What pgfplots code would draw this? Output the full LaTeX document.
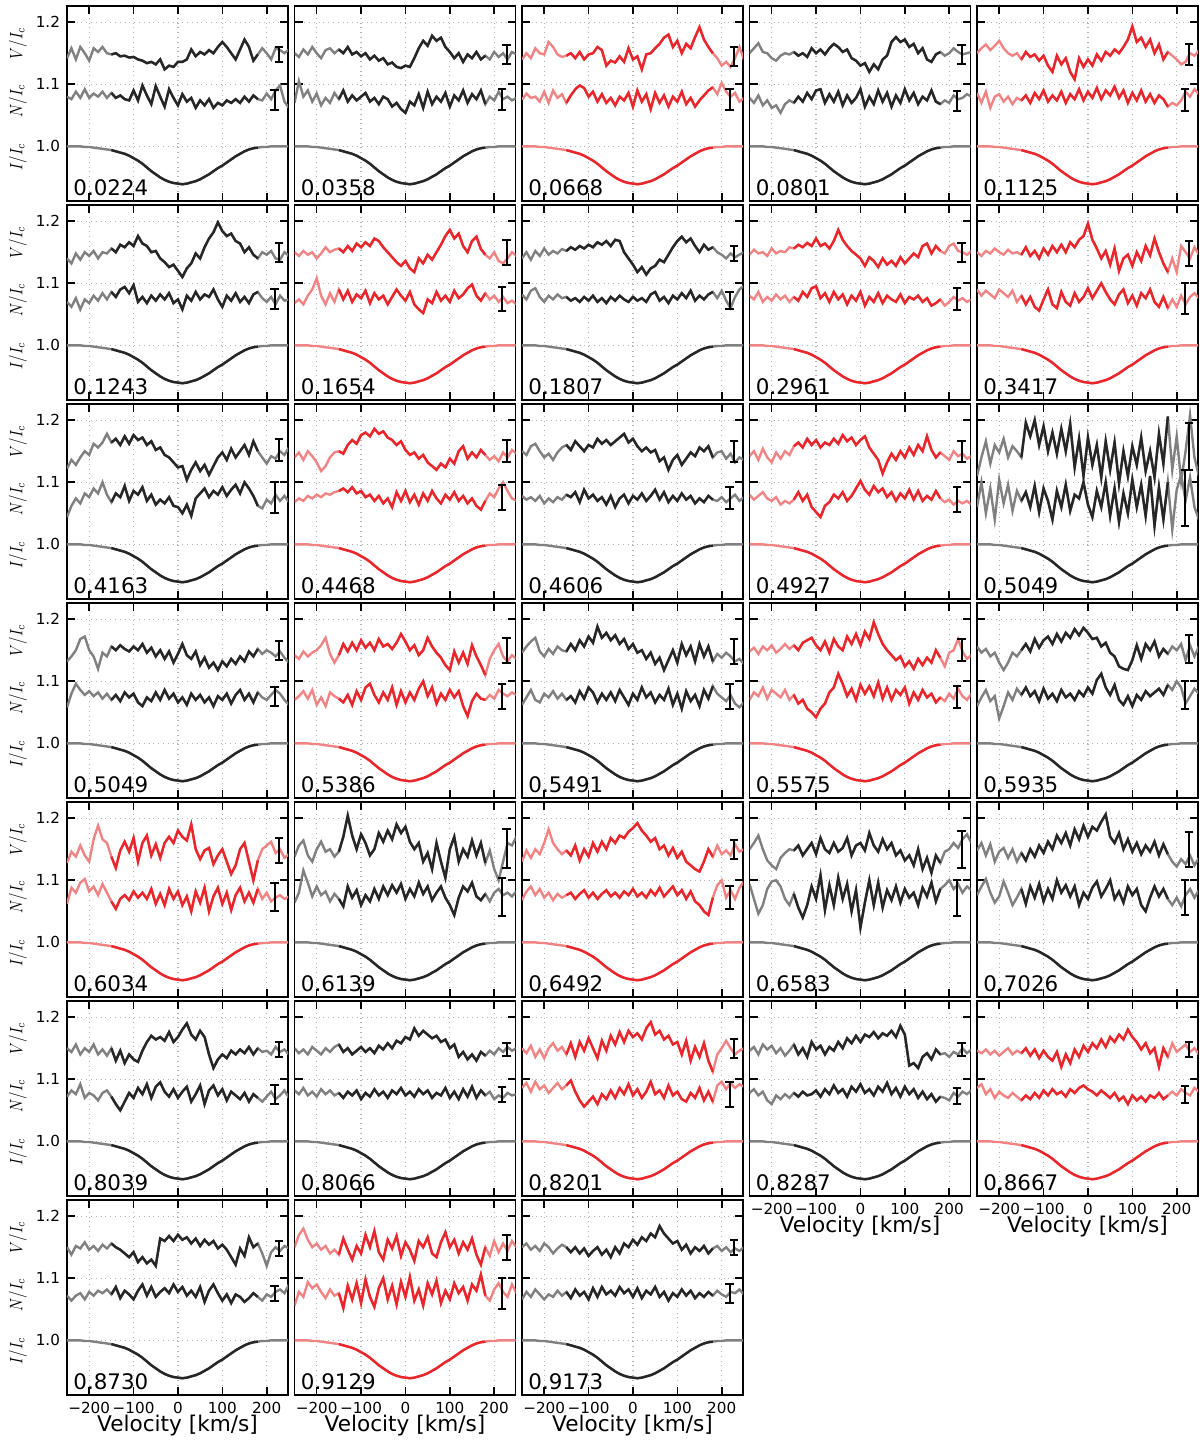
\documentclass[border=0pt]{standalone}
\usepackage{pgfplots}
\pgfplotsset{compat=1.18}
\usepackage{pgfplotstable}
\usepackage{graphicx}
\usepackage{fontspec}
\setmainfont{DejaVu Sans}

\definecolor{kD}{HTML}{262626}
\definecolor{kL}{HTML}{808080}
\definecolor{rD}{HTML}{E8262B}
\definecolor{rL}{HTML}{F08484}

% shared intensity profile
\pgfplotstableread{
v I
-250 1.000
-240 1.000
-230 1.000
-220 1.000
-210 0.999
-200 0.999
-190 0.998
-180 0.997
-170 0.996
-160 0.995
-150 0.994
-140 0.992
-130 0.990
-120 0.988
-110 0.985
-100 0.981
-90 0.977
-80 0.972
-70 0.966
-60 0.960
-50 0.955
-40 0.950
-30 0.946
-20 0.943
-10 0.941
0 0.940
10 0.939
20 0.940
30 0.942
40 0.944
50 0.947
60 0.951
70 0.955
80 0.960
90 0.965
100 0.969
110 0.974
120 0.979
130 0.984
140 0.988
150 0.992
160 0.995
170 0.997
180 0.998
190 0.999
200 0.999
210 1.000
220 1.000
230 1.000
240 1.000
250 1.000
}\Iprof

% 0.0224
\pgfplotstableread{
v V N
-250 1.142 1.080
-240 1.158 1.076
-230 1.140 1.088
-220 1.160 1.078
-210 1.150 1.092
-200 1.138 1.078
-190 1.158 1.085
-180 1.152 1.080
-170 1.160 1.088
-160 1.150 1.078
-150 1.148 1.086
-140 1.150 1.078
-130 1.145 1.082
-120 1.146 1.076
-110 1.143 1.074
-100 1.144 1.090
-90 1.140 1.074
-80 1.138 1.098
-70 1.134 1.082
-60 1.136 1.068
-50 1.132 1.097
-40 1.140 1.080
-30 1.124 1.064
-20 1.130 1.092
-10 1.128 1.078
0 1.136 1.066
10 1.136 1.084
20 1.140 1.072
30 1.156 1.078
40 1.145 1.062
50 1.152 1.074
60 1.148 1.066
70 1.155 1.076
80 1.150 1.062
90 1.160 1.070
100 1.168 1.066
110 1.160 1.074
120 1.150 1.070
130 1.140 1.076
140 1.156 1.070
150 1.172 1.080
160 1.160 1.072
170 1.138 1.082
180 1.148 1.076
190 1.158 1.074
200 1.150 1.085
210 1.140 1.076
220 1.158 1.090
230 1.155 1.098
240 1.150 1.072
250 1.156 1.062
}\tabA

% 0.0358
\pgfplotstableread{
v V N
-250 1.150 1.070
-240 1.144 1.105
-230 1.156 1.080
-220 1.148 1.090
-210 1.160 1.072
-200 1.150 1.085
-190 1.142 1.066
-180 1.155 1.078
-170 1.158 1.070
-160 1.150 1.086
-150 1.156 1.076
-140 1.150 1.090
-130 1.160 1.072
-120 1.148 1.082
-110 1.152 1.074
-100 1.145 1.080
-90 1.150 1.086
-80 1.140 1.072
-70 1.146 1.078
-60 1.138 1.068
-50 1.142 1.080
-40 1.132 1.076
-30 1.135 1.064
-20 1.128 1.070
-10 1.126 1.060
0 1.130 1.054
10 1.128 1.072
20 1.142 1.066
30 1.158 1.084
40 1.170 1.062
50 1.162 1.088
60 1.178 1.068
70 1.170 1.080
80 1.175 1.072
90 1.160 1.086
100 1.152 1.064
110 1.142 1.082
120 1.150 1.074
130 1.136 1.090
140 1.148 1.070
150 1.142 1.084
160 1.152 1.076
170 1.140 1.090
180 1.146 1.068
190 1.140 1.080
200 1.152 1.074
210 1.144 1.088
220 1.150 1.076
230 1.140 1.080
240 1.152 1.074
250 1.148 1.078
}\tabB

% 0.0668
\pgfplotstableread{
v V N
-250 1.140 1.075
-240 1.150 1.085
-230 1.142 1.078
-220 1.158 1.080
-210 1.150 1.072
-200 1.148 1.088
-190 1.168 1.070
-180 1.160 1.090
-170 1.148 1.078
-160 1.144 1.084
-150 1.146 1.070
-140 1.150 1.082
-130 1.142 1.092
-120 1.152 1.098
-110 1.140 1.094
-100 1.148 1.080
-90 1.150 1.088
-80 1.160 1.072
-70 1.155 1.084
-60 1.130 1.070
-50 1.138 1.078
-40 1.135 1.066
-30 1.145 1.080
-20 1.136 1.074
-10 1.158 1.086
0 1.140 1.064
10 1.145 1.090
20 1.124 1.072
30 1.148 1.084
40 1.150 1.060
50 1.158 1.086
60 1.165 1.070
70 1.175 1.082
80 1.180 1.064
90 1.160 1.080
100 1.170 1.072
110 1.150 1.088
120 1.165 1.068
130 1.158 1.078
140 1.176 1.064
150 1.192 1.074
160 1.172 1.082
170 1.160 1.090
180 1.150 1.095
190 1.142 1.084
200 1.130 1.102
210 1.136 1.088
220 1.128 1.080
230 1.142 1.086
240 1.160 1.072
250 1.140 1.078
}\tabC

% 0.0801
\pgfplotstableread{
v V N
-250 1.150 1.078
-240 1.158 1.070
-230 1.166 1.082
-220 1.152 1.066
-210 1.150 1.074
-200 1.142 1.062
-190 1.138 1.066
-180 1.146 1.054
-170 1.150 1.068
-160 1.148 1.074
-150 1.152 1.070
-140 1.146 1.080
-130 1.150 1.072
-120 1.144 1.086
-110 1.158 1.076
-100 1.150 1.090
-90 1.156 1.092
-80 1.148 1.070
-70 1.158 1.084
-60 1.165 1.072
-50 1.160 1.088
-40 1.152 1.066
-30 1.156 1.082
-20 1.142 1.070
-10 1.138 1.078
0 1.130 1.092
10 1.134 1.064
20 1.120 1.080
30 1.132 1.068
40 1.124 1.090
50 1.140 1.072
60 1.146 1.086
70 1.168 1.064
80 1.176 1.082
90 1.168 1.070
100 1.172 1.092
110 1.160 1.074
120 1.165 1.086
130 1.150 1.068
140 1.158 1.080
150 1.140 1.074
160 1.136 1.090
170 1.148 1.072
180 1.152 1.068
190 1.146 1.074
200 1.150 1.070
210 1.158 1.082
220 1.152 1.076
230 1.148 1.078
240 1.150 1.084
250 1.152 1.080
}\tabD

% 0.1125
\pgfplotstableread{
v V N
-250 1.150 1.086
-240 1.158 1.070
-230 1.164 1.088
-220 1.155 1.062
-210 1.162 1.080
-200 1.170 1.084
-190 1.158 1.072
-180 1.150 1.080
-170 1.146 1.068
-160 1.150 1.078
-150 1.140 1.074
-140 1.152 1.082
-130 1.144 1.070
-120 1.148 1.086
-110 1.138 1.076
-100 1.146 1.090
-90 1.130 1.072
-80 1.120 1.082
-70 1.146 1.074
-60 1.132 1.088
-50 1.142 1.070
-40 1.120 1.084
-30 1.108 1.076
-20 1.142 1.092
-10 1.128 1.074
0 1.140 1.088
10 1.130 1.078
20 1.148 1.094
30 1.138 1.076
40 1.152 1.090
50 1.146 1.082
60 1.156 1.096
70 1.150 1.078
80 1.160 1.090
90 1.172 1.070
100 1.193 1.086
110 1.168 1.074
120 1.175 1.090
130 1.160 1.072
140 1.172 1.084
150 1.150 1.070
160 1.164 1.082
170 1.140 1.076
180 1.152 1.064
190 1.146 1.070
200 1.140 1.066
210 1.132 1.074
220 1.136 1.088
230 1.150 1.080
240 1.146 1.092
250 1.154 1.084
}\tabE

% 0.1243
\pgfplotstableread{
v V N
-250 1.140 1.070
-240 1.132 1.062
-230 1.148 1.076
-220 1.138 1.058
-210 1.150 1.074
-200 1.144 1.068
-190 1.152 1.080
-180 1.140 1.072
-170 1.150 1.084
-160 1.148 1.074
-150 1.156 1.086
-140 1.150 1.078
-130 1.162 1.090
-120 1.158 1.094
-110 1.166 1.084
-100 1.160 1.097
-90 1.176 1.070
-80 1.164 1.078
-70 1.160 1.068
-60 1.150 1.080
-50 1.152 1.072
-40 1.140 1.082
-30 1.134 1.074
-20 1.126 1.084
-10 1.130 1.068
0 1.120 1.074
10 1.110 1.058
20 1.124 1.080
30 1.132 1.072
40 1.148 1.086
50 1.140 1.074
60 1.158 1.082
70 1.172 1.078
80 1.182 1.090
90 1.198 1.074
100 1.184 1.062
110 1.176 1.080
120 1.180 1.072
130 1.168 1.084
140 1.164 1.070
150 1.150 1.078
160 1.158 1.068
170 1.146 1.082
180 1.140 1.086
190 1.150 1.076
200 1.146 1.070
210 1.152 1.078
220 1.140 1.066
230 1.138 1.080
240 1.150 1.072
250 1.144 1.074
}\tabF

% 0.1654
\pgfplotstableread{
v V N
-250 1.150 1.068
-240 1.144 1.074
-230 1.152 1.066
-220 1.146 1.080
-210 1.150 1.090
-200 1.140 1.108
-190 1.148 1.080
-180 1.158 1.066
-170 1.150 1.084
-160 1.154 1.070
-150 1.156 1.090
-140 1.150 1.074
-130 1.160 1.088
-120 1.152 1.070
-110 1.164 1.082
-100 1.158 1.076
-90 1.166 1.088
-80 1.160 1.068
-70 1.172 1.084
-60 1.168 1.074
-50 1.158 1.080
-40 1.150 1.066
-30 1.142 1.078
-20 1.134 1.090
-10 1.128 1.080
0 1.136 1.072
10 1.124 1.086
20 1.118 1.066
30 1.140 1.058
40 1.132 1.052
50 1.146 1.074
60 1.138 1.068
70 1.150 1.086
80 1.162 1.072
90 1.176 1.080
100 1.186 1.070
110 1.172 1.088
120 1.180 1.076
130 1.160 1.082
140 1.150 1.092
150 1.168 1.098
160 1.175 1.080
170 1.155 1.072
180 1.146 1.084
190 1.140 1.074
200 1.150 1.080
210 1.136 1.070
220 1.132 1.078
230 1.140 1.068
240 1.150 1.072
250 1.144 1.066
}\tabG

% 0.1807
\pgfplotstableread{
v V N
-250 1.140 1.082
-240 1.150 1.074
-230 1.138 1.088
-220 1.152 1.092
-210 1.144 1.078
-200 1.156 1.070
-190 1.146 1.080
-180 1.152 1.074
-170 1.148 1.082
-160 1.155 1.076
-150 1.152 1.078
-140 1.158 1.072
-130 1.154 1.076
-120 1.160 1.070
-110 1.156 1.078
-100 1.162 1.072
-90 1.158 1.080
-80 1.166 1.070
-70 1.162 1.076
-60 1.168 1.068
-50 1.160 1.078
-40 1.170 1.072
-30 1.168 1.080
-20 1.150 1.074
-10 1.140 1.070
0 1.130 1.078
10 1.118 1.072
20 1.126 1.076
30 1.114 1.070
40 1.124 1.082
50 1.128 1.086
60 1.138 1.072
70 1.134 1.078
80 1.146 1.068
90 1.158 1.080
100 1.168 1.074
110 1.175 1.084
120 1.166 1.076
130 1.172 1.088
140 1.160 1.072
150 1.150 1.080
160 1.162 1.074
170 1.154 1.082
180 1.158 1.086
190 1.150 1.076
200 1.146 1.088
210 1.140 1.072
220 1.148 1.060
230 1.142 1.078
240 1.146 1.090
250 1.150 1.096
}\tabH

% 0.2961
\pgfplotstableread{
v V N
-250 1.146 1.080
-240 1.154 1.074
-230 1.148 1.086
-220 1.150 1.070
-210 1.144 1.078
-200 1.156 1.072
-190 1.148 1.082
-180 1.152 1.074
-170 1.150 1.080
-160 1.158 1.070
-150 1.156 1.078
-140 1.162 1.072
-130 1.158 1.086
-120 1.165 1.078
-110 1.160 1.092
-100 1.172 1.095
-90 1.160 1.076
-80 1.164 1.084
-70 1.156 1.070
-60 1.168 1.086
-50 1.186 1.074
-40 1.170 1.082
-30 1.160 1.066
-20 1.152 1.080
-10 1.146 1.072
0 1.140 1.086
10 1.128 1.064
20 1.142 1.078
30 1.136 1.070
40 1.126 1.084
50 1.140 1.068
60 1.130 1.080
70 1.136 1.074
80 1.128 1.070
90 1.142 1.082
100 1.132 1.068
110 1.140 1.078
120 1.148 1.074
130 1.142 1.080
140 1.160 1.070
150 1.164 1.076
160 1.148 1.064
170 1.160 1.068
180 1.152 1.074
190 1.148 1.064
200 1.160 1.070
210 1.164 1.078
220 1.152 1.072
230 1.150 1.076
240 1.146 1.070
250 1.152 1.074
}\tabI

% 0.3417
\pgfplotstableread{
v V N
-250 1.150 1.090
-240 1.144 1.080
-230 1.152 1.088
-220 1.148 1.082
-210 1.156 1.076
-200 1.150 1.090
-190 1.146 1.084
-180 1.154 1.078
-170 1.148 1.088
-160 1.150 1.070
-150 1.146 1.080
-140 1.158 1.066
-130 1.144 1.078
-120 1.152 1.062
-110 1.140 1.056
-100 1.156 1.074
-90 1.146 1.090
-80 1.160 1.066
-70 1.150 1.060
-60 1.162 1.086
-50 1.150 1.070
-40 1.166 1.064
-30 1.158 1.084
-20 1.170 1.070
-10 1.176 1.078
0 1.196 1.092
10 1.170 1.076
20 1.156 1.088
30 1.140 1.100
40 1.152 1.086
50 1.130 1.074
60 1.156 1.066
70 1.120 1.082
80 1.140 1.090
90 1.146 1.068
100 1.128 1.080
110 1.150 1.064
120 1.136 1.084
130 1.160 1.076
140 1.145 1.090
150 1.172 1.070
160 1.150 1.062
170 1.132 1.078
180 1.118 1.060
190 1.140 1.074
200 1.118 1.062
210 1.160 1.080
220 1.150 1.066
230 1.140 1.078
240 1.158 1.084
250 1.146 1.076
}\tabJ

% 0.4163
\pgfplotstableread{
v V N
-250 1.122 1.044
-240 1.136 1.062
-230 1.128 1.074
-220 1.140 1.066
-210 1.150 1.082
-200 1.144 1.076
-190 1.162 1.090
-180 1.156 1.082
-170 1.164 1.100
-160 1.178 1.080
-150 1.164 1.068
-140 1.170 1.082
-130 1.160 1.076
-120 1.174 1.094
-110 1.162 1.070
-100 1.176 1.086
-90 1.168 1.080
-80 1.172 1.092
-70 1.160 1.070
-60 1.166 1.080
-50 1.152 1.064
-40 1.156 1.072
-30 1.144 1.066
-20 1.140 1.076
-10 1.132 1.062
0 1.124 1.060
10 1.126 1.050
20 1.104 1.064
30 1.120 1.046
40 1.132 1.074
50 1.118 1.082
60 1.128 1.090
70 1.112 1.076
80 1.126 1.086
90 1.140 1.080
100 1.148 1.092
110 1.136 1.078
120 1.154 1.088
130 1.140 1.096
140 1.150 1.082
150 1.160 1.100
160 1.144 1.090
170 1.166 1.078
180 1.150 1.062
190 1.140 1.058
200 1.130 1.072
210 1.142 1.066
220 1.138 1.080
230 1.150 1.070
240 1.144 1.078
250 1.156 1.068
}\tabK

% 0.4468
\pgfplotstableread{
v V N
-250 1.140 1.068
-240 1.148 1.074
-230 1.136 1.070
-220 1.150 1.078
-210 1.142 1.074
-200 1.132 1.080
-190 1.118 1.076
-180 1.126 1.082
-170 1.140 1.080
-160 1.148 1.084
-150 1.150 1.086
-140 1.146 1.090
-130 1.160 1.084
-120 1.168 1.092
-110 1.162 1.082
-100 1.176 1.086
-90 1.180 1.076
-80 1.174 1.080
-70 1.186 1.070
-60 1.178 1.078
-50 1.182 1.066
-40 1.172 1.074
-30 1.168 1.060
-20 1.160 1.084
-10 1.166 1.070
0 1.152 1.086
10 1.144 1.068
20 1.148 1.080
30 1.138 1.064
40 1.144 1.082
50 1.132 1.070
60 1.126 1.086
70 1.120 1.074
80 1.130 1.066
90 1.124 1.080
100 1.138 1.072
110 1.130 1.084
120 1.150 1.070
130 1.158 1.078
140 1.138 1.066
150 1.148 1.074
160 1.140 1.062
170 1.152 1.056
180 1.144 1.070
190 1.136 1.082
200 1.142 1.076
210 1.134 1.090
220 1.148 1.100
230 1.140 1.086
240 1.152 1.074
250 1.146 1.070
}\tabL

% 0.4606
\pgfplotstableread{
v V N
-250 1.150 1.078
-240 1.144 1.072
-230 1.158 1.076
-220 1.162 1.070
-210 1.150 1.078
-200 1.140 1.066
-190 1.146 1.074
-180 1.136 1.068
-170 1.148 1.076
-160 1.156 1.072
-150 1.160 1.080
-140 1.152 1.076
-130 1.166 1.084
-120 1.158 1.068
-110 1.150 1.088
-100 1.160 1.074
-90 1.156 1.080
-80 1.170 1.070
-70 1.162 1.076
-60 1.168 1.064
-50 1.160 1.078
-40 1.166 1.060
-30 1.172 1.074
-20 1.178 1.080
-10 1.164 1.066
0 1.170 1.078
10 1.158 1.072
20 1.150 1.082
30 1.156 1.070
40 1.148 1.078
50 1.152 1.088
60 1.134 1.072
70 1.140 1.084
80 1.120 1.068
90 1.136 1.078
100 1.144 1.070
110 1.128 1.082
120 1.138 1.072
130 1.148 1.078
140 1.142 1.066
150 1.156 1.074
160 1.150 1.068
170 1.158 1.078
180 1.140 1.072
190 1.148 1.070
200 1.150 1.076
210 1.138 1.068
220 1.146 1.074
230 1.132 1.080
240 1.140 1.070
250 1.136 1.076
}\tabM

% 0.4927
\pgfplotstableread{
v V N
-250 1.142 1.080
-240 1.150 1.072
-230 1.136 1.078
-220 1.154 1.084
-210 1.140 1.074
-200 1.132 1.070
-190 1.148 1.076
-180 1.138 1.064
-170 1.150 1.070
-160 1.144 1.066
-150 1.158 1.072
-140 1.164 1.084
-130 1.156 1.070
-120 1.170 1.080
-110 1.160 1.060
-100 1.168 1.052
-90 1.156 1.044
-80 1.164 1.062
-70 1.160 1.068
-60 1.170 1.080
-50 1.162 1.074
-40 1.176 1.084
-30 1.166 1.070
-20 1.172 1.078
-10 1.160 1.090
0 1.168 1.102
10 1.174 1.088
20 1.156 1.080
30 1.146 1.094
40 1.136 1.084
50 1.114 1.090
60 1.132 1.076
70 1.146 1.084
80 1.136 1.070
90 1.150 1.082
100 1.140 1.074
110 1.156 1.088
120 1.144 1.072
130 1.160 1.086
140 1.150 1.070
150 1.174 1.078
160 1.152 1.072
170 1.140 1.086
180 1.148 1.074
190 1.142 1.068
200 1.136 1.072
210 1.150 1.064
220 1.142 1.070
230 1.146 1.066
240 1.138 1.070
250 1.142 1.064
}\tabN

% 0.5049 (noisy)
\pgfplotstableread{
v V N
-250 1.110 1.060
-240 1.140 1.100
-230 1.166 1.050
-220 1.130 1.090
-210 1.160 1.040
-200 1.148 1.104
-190 1.170 1.066
-180 1.140 1.096
-170 1.158 1.054
-160 1.150 1.086
-150 1.140 1.070
-140 1.196 1.084
-130 1.174 1.060
-120 1.200 1.094
-110 1.160 1.052
-100 1.190 1.090
-90 1.150 1.070
-80 1.180 1.040
-70 1.146 1.086
-60 1.186 1.060
-50 1.150 1.096
-40 1.194 1.054
-30 1.124 1.080
-20 1.170 1.074
-10 1.110 1.100
0 1.172 1.064
10 1.128 1.044
20 1.160 1.086
30 1.108 1.060
40 1.166 1.100
50 1.120 1.046
60 1.164 1.090
70 1.098 1.036
80 1.150 1.082
90 1.110 1.050
100 1.158 1.104
110 1.128 1.060
120 1.172 1.096
130 1.118 1.046
140 1.150 1.110
150 1.108 1.030
160 1.178 1.092
170 1.130 1.040
180 1.206 1.100
190 1.120 1.024
200 1.174 1.088
210 1.102 1.112
220 1.150 1.070
230 1.208 1.108
240 1.140 1.060
250 1.110 1.040
}\tabO

% 0.5049
\pgfplotstableread{
v V N
-250 1.132 1.058
-240 1.140 1.080
-230 1.150 1.096
-220 1.168 1.086
-210 1.172 1.078
-200 1.150 1.084
-190 1.140 1.076
-180 1.120 1.082
-170 1.146 1.072
-160 1.140 1.080
-150 1.156 1.070
-140 1.150 1.078
-130 1.158 1.068
-120 1.152 1.082
-110 1.148 1.074
-100 1.156 1.080
-90 1.150 1.066
-80 1.160 1.060
-70 1.146 1.074
-60 1.154 1.068
-50 1.140 1.082
-40 1.150 1.070
-30 1.136 1.086
-20 1.148 1.072
-10 1.130 1.080
0 1.144 1.066
10 1.160 1.074
20 1.142 1.062
30 1.136 1.080
40 1.148 1.070
50 1.126 1.078
60 1.138 1.066
70 1.122 1.074
80 1.130 1.060
90 1.118 1.076
100 1.132 1.070
110 1.124 1.080
120 1.136 1.064
130 1.128 1.078
140 1.140 1.086
150 1.132 1.070
160 1.148 1.080
170 1.140 1.066
180 1.152 1.082
190 1.144 1.074
200 1.150 1.070
210 1.146 1.078
220 1.140 1.086
230 1.148 1.080
240 1.138 1.070
250 1.130 1.062
}\tabP

% 0.5386
\pgfplotstableread{
v V N
-250 1.142 1.070
-240 1.136 1.076
-230 1.148 1.084
-220 1.140 1.072
-210 1.146 1.086
-200 1.150 1.062
-190 1.158 1.074
-180 1.170 1.060
-170 1.144 1.082
-160 1.130 1.076
-150 1.142 1.072
-140 1.160 1.066
-130 1.148 1.078
-120 1.162 1.062
-110 1.150 1.084
-100 1.166 1.070
-90 1.154 1.090
-80 1.162 1.096
-70 1.150 1.078
-60 1.168 1.066
-50 1.156 1.082
-40 1.160 1.070
-30 1.152 1.090
-20 1.162 1.062
-10 1.176 1.084
0 1.164 1.066
10 1.150 1.082
20 1.158 1.070
30 1.142 1.088
40 1.150 1.100
50 1.170 1.076
60 1.156 1.090
70 1.146 1.064
80 1.138 1.080
90 1.126 1.070
100 1.118 1.086
110 1.148 1.074
120 1.130 1.084
130 1.146 1.060
140 1.128 1.044
150 1.158 1.068
160 1.140 1.080
170 1.126 1.072
180 1.110 1.070
190 1.136 1.078
200 1.150 1.072
210 1.160 1.086
220 1.140 1.080
230 1.132 1.076
240 1.142 1.082
250 1.136 1.078
}\tabQ

% 0.5491
\pgfplotstableread{
v V N
-250 1.146 1.062
-240 1.156 1.074
-230 1.164 1.086
-220 1.170 1.070
-210 1.148 1.066
-200 1.140 1.080
-190 1.152 1.074
-180 1.144 1.084
-170 1.156 1.072
-160 1.150 1.080
-150 1.148 1.070
-140 1.160 1.076
-130 1.150 1.066
-120 1.166 1.084
-110 1.156 1.072
-100 1.172 1.090
-90 1.162 1.082
-80 1.188 1.066
-70 1.170 1.080
-60 1.178 1.070
-50 1.166 1.082
-40 1.174 1.068
-30 1.160 1.086
-20 1.168 1.074
-10 1.152 1.062
0 1.160 1.080
10 1.146 1.070
20 1.150 1.090
30 1.136 1.074
40 1.146 1.082
50 1.128 1.066
60 1.138 1.078
70 1.118 1.070
80 1.134 1.088
90 1.150 1.062
100 1.130 1.080
110 1.160 1.056
120 1.142 1.084
130 1.156 1.068
140 1.132 1.078
150 1.160 1.060
160 1.140 1.086
170 1.156 1.072
180 1.132 1.092
190 1.144 1.080
200 1.138 1.074
210 1.146 1.068
220 1.140 1.078
230 1.132 1.064
240 1.136 1.058
250 1.128 1.066
}\tabR

% 0.5575
\pgfplotstableread{
v V N
-250 1.148 1.070
-240 1.154 1.082
-230 1.144 1.076
-220 1.156 1.090
-210 1.150 1.072
-200 1.158 1.086
-190 1.146 1.080
-180 1.152 1.074
-170 1.160 1.086
-160 1.152 1.070
-150 1.158 1.078
-140 1.150 1.064
-130 1.162 1.070
-120 1.166 1.056
-110 1.170 1.050
-100 1.158 1.042
-90 1.150 1.056
-80 1.164 1.064
-70 1.146 1.082
-60 1.168 1.090
-50 1.156 1.112
-40 1.150 1.096
-30 1.172 1.076
-20 1.160 1.088
-10 1.176 1.070
0 1.158 1.094
10 1.180 1.080
20 1.168 1.092
30 1.195 1.076
40 1.176 1.098
50 1.160 1.072
60 1.150 1.090
70 1.142 1.070
80 1.134 1.086
90 1.140 1.078
100 1.124 1.090
110 1.132 1.064
120 1.120 1.082
130 1.136 1.070
140 1.126 1.086
150 1.138 1.074
160 1.130 1.080
170 1.150 1.066
180 1.138 1.074
190 1.124 1.068
200 1.146 1.080
210 1.150 1.072
220 1.168 1.088
230 1.148 1.076
240 1.136 1.070
250 1.142 1.080
}\tabS

% 0.5935
\pgfplotstableread{
v V N
-250 1.156 1.060
-240 1.146 1.074
-230 1.152 1.086
-220 1.140 1.068
-210 1.146 1.076
-200 1.130 1.040
-190 1.118 1.060
-180 1.130 1.082
-170 1.146 1.070
-160 1.140 1.088
-150 1.150 1.078
-140 1.160 1.090
-130 1.148 1.076
-120 1.168 1.084
-110 1.154 1.068
-100 1.166 1.088
-90 1.172 1.072
-80 1.160 1.080
-70 1.176 1.068
-60 1.164 1.086
-50 1.178 1.074
-40 1.170 1.080
-30 1.184 1.070
-20 1.174 1.084
-10 1.186 1.076
0 1.178 1.090
10 1.168 1.080
20 1.170 1.102
30 1.156 1.112
40 1.162 1.090
50 1.146 1.078
60 1.140 1.094
70 1.124 1.070
80 1.120 1.062
90 1.118 1.076
100 1.134 1.060
110 1.158 1.078
120 1.136 1.070
130 1.160 1.084
140 1.150 1.076
150 1.164 1.082
160 1.140 1.088
170 1.152 1.078
180 1.144 1.094
190 1.156 1.086
200 1.150 1.100
210 1.160 1.090
220 1.134 1.064
230 1.158 1.076
240 1.140 1.088
250 1.156 1.080
}\tabT

% 0.6034
\pgfplotstableread{
v V N
-250 1.128 1.062
-240 1.146 1.088
-230 1.138 1.080
-220 1.156 1.096
-210 1.140 1.102
-200 1.130 1.082
-190 1.166 1.090
-180 1.188 1.076
-170 1.166 1.094
-160 1.160 1.080
-150 1.138 1.066
-140 1.120 1.054
-130 1.148 1.070
-120 1.162 1.076
-110 1.146 1.068
-100 1.168 1.082
-90 1.130 1.072
-80 1.160 1.080
-70 1.172 1.070
-60 1.140 1.086
-50 1.158 1.062
-40 1.136 1.078
-30 1.160 1.060
-20 1.170 1.086
-10 1.160 1.070
0 1.180 1.082
10 1.170 1.060
20 1.164 1.074
30 1.190 1.050
40 1.150 1.082
50 1.134 1.064
60 1.148 1.088
70 1.152 1.050
80 1.126 1.074
90 1.140 1.088
100 1.150 1.062
110 1.130 1.080
120 1.110 1.052
130 1.124 1.076
140 1.150 1.088
150 1.160 1.066
160 1.130 1.080
170 1.100 1.064
180 1.132 1.086
190 1.150 1.070
200 1.156 1.080
210 1.162 1.066
220 1.144 1.072
230 1.150 1.076
240 1.136 1.070
250 1.142 1.074
}\tabU

% 0.6139
\pgfplotstableread{
v V N
-250 1.138 1.064
-240 1.156 1.080
-230 1.164 1.116
-220 1.140 1.096
-210 1.130 1.074
-200 1.150 1.090
-190 1.162 1.076
-180 1.146 1.082
-170 1.150 1.066
-160 1.138 1.078
-150 1.146 1.070
-140 1.170 1.058
-130 1.204 1.090
-120 1.172 1.072
-110 1.150 1.084
-100 1.174 1.060
-90 1.160 1.076
-80 1.140 1.066
-70 1.150 1.086
-60 1.176 1.070
-50 1.162 1.090
-40 1.180 1.076
-30 1.166 1.092
-20 1.190 1.080
-10 1.176 1.094
0 1.186 1.070
10 1.162 1.086
20 1.150 1.074
30 1.160 1.096
40 1.130 1.078
50 1.144 1.090
60 1.118 1.068
70 1.160 1.080
80 1.130 1.090
90 1.104 1.072
100 1.150 1.060
110 1.170 1.044
120 1.130 1.072
130 1.150 1.090
140 1.138 1.082
150 1.164 1.096
160 1.140 1.074
170 1.160 1.068
180 1.128 1.078
190 1.148 1.066
200 1.118 1.080
210 1.100 1.086
220 1.130 1.076
230 1.160 1.080
240 1.156 1.074
250 1.170 1.082
}\tabV

% 0.6492
\pgfplotstableread{
v V N
-250 1.130 1.068
-240 1.148 1.082
-230 1.136 1.090
-220 1.150 1.076
-210 1.142 1.086
-200 1.160 1.072
-190 1.182 1.080
-180 1.160 1.068
-170 1.150 1.078
-160 1.142 1.072
-150 1.148 1.076
-140 1.140 1.080
-130 1.156 1.070
-120 1.132 1.078
-110 1.150 1.084
-100 1.138 1.072
-90 1.160 1.080
-80 1.146 1.070
-70 1.162 1.078
-60 1.150 1.084
-50 1.168 1.074
-40 1.160 1.080
-30 1.172 1.072
-20 1.168 1.082
-10 1.178 1.076
0 1.184 1.086
10 1.192 1.074
20 1.180 1.080
30 1.172 1.072
40 1.162 1.084
50 1.168 1.076
60 1.150 1.088
70 1.156 1.074
80 1.140 1.082
90 1.152 1.090
100 1.136 1.076
110 1.146 1.084
120 1.130 1.070
130 1.124 1.082
140 1.118 1.066
150 1.114 1.060
160 1.130 1.050
170 1.150 1.044
180 1.138 1.072
190 1.156 1.092
200 1.142 1.100
210 1.148 1.072
220 1.140 1.084
230 1.158 1.070
240 1.146 1.088
250 1.150 1.098
}\tabW

% 0.6583
\pgfplotstableread{
v V N
-250 1.150 1.094
-240 1.160 1.070
-230 1.172 1.046
-220 1.150 1.060
-210 1.132 1.086
-200 1.124 1.098
-190 1.118 1.100
-180 1.136 1.090
-170 1.144 1.070
-160 1.150 1.060
-150 1.148 1.078
-140 1.156 1.056
-130 1.140 1.040
-120 1.150 1.060
-110 1.160 1.090
-100 1.142 1.070
-90 1.168 1.108
-80 1.150 1.052
-70 1.144 1.092
-60 1.160 1.060
-50 1.146 1.104
-40 1.152 1.070
-30 1.168 1.094
-20 1.140 1.050
-10 1.156 1.084
0 1.160 1.024
10 1.148 1.064
20 1.176 1.100
30 1.156 1.060
40 1.146 1.096
50 1.166 1.056
60 1.150 1.084
70 1.160 1.068
80 1.140 1.090
90 1.148 1.064
100 1.132 1.086
110 1.140 1.072
120 1.124 1.080
130 1.150 1.060
140 1.118 1.088
150 1.136 1.074
160 1.112 1.096
170 1.140 1.066
180 1.128 1.086
190 1.146 1.092
200 1.150 1.100
210 1.160 1.086
220 1.152 1.094
230 1.166 1.080
240 1.174 1.090
250 1.160 1.084
}\tabX

% 0.7026
\pgfplotstableread{
v V N
-250 1.148 1.076
-240 1.160 1.090
-230 1.140 1.102
-220 1.158 1.080
-210 1.130 1.064
-200 1.146 1.074
-190 1.152 1.098
-180 1.136 1.080
-170 1.150 1.060
-160 1.130 1.072
-150 1.144 1.086
-140 1.132 1.062
-130 1.150 1.090
-120 1.138 1.072
-110 1.156 1.094
-100 1.144 1.066
-90 1.162 1.086
-80 1.150 1.070
-70 1.172 1.100
-60 1.160 1.080
-50 1.176 1.092
-40 1.156 1.074
-30 1.182 1.090
-20 1.166 1.060
-10 1.188 1.080
0 1.170 1.070
10 1.186 1.088
20 1.180 1.098
30 1.194 1.074
40 1.206 1.086
50 1.170 1.100
60 1.160 1.070
70 1.176 1.082
80 1.150 1.064
90 1.166 1.090
100 1.146 1.076
110 1.160 1.086
120 1.142 1.060
130 1.156 1.050
140 1.146 1.072
150 1.162 1.090
160 1.140 1.074
170 1.158 1.086
180 1.142 1.070
190 1.130 1.060
200 1.122 1.072
210 1.134 1.058
220 1.126 1.076
230 1.140 1.086
240 1.124 1.072
250 1.136 1.084
}\tabY

% 0.8039
\pgfplotstableread{
v V N
-250 1.150 1.072
-240 1.144 1.082
-230 1.156 1.076
-220 1.140 1.092
-210 1.150 1.070
-200 1.144 1.078
-190 1.156 1.074
-180 1.140 1.066
-170 1.148 1.078
-160 1.138 1.082
-150 1.150 1.072
-140 1.130 1.060
-130 1.146 1.050
-120 1.126 1.064
-110 1.140 1.078
-100 1.132 1.070
-90 1.128 1.086
-80 1.146 1.076
-70 1.160 1.092
-60 1.170 1.070
-50 1.164 1.088
-40 1.168 1.095
-30 1.162 1.080
-20 1.176 1.072
-10 1.160 1.084
0 1.168 1.070
10 1.180 1.080
20 1.190 1.088
30 1.172 1.064
40 1.164 1.076
50 1.178 1.090
60 1.168 1.060
70 1.140 1.082
80 1.118 1.090
90 1.132 1.074
100 1.140 1.084
110 1.134 1.066
120 1.146 1.080
130 1.140 1.074
140 1.148 1.068
150 1.142 1.078
160 1.152 1.064
170 1.140 1.076
180 1.150 1.070
190 1.144 1.064
200 1.146 1.072
210 1.140 1.080
220 1.152 1.068
230 1.144 1.074
240 1.148 1.082
250 1.140 1.070
}\tabZ

% 0.8066
\pgfplotstableread{
v V N
-250 1.150 1.082
-240 1.142 1.076
-230 1.148 1.086
-220 1.140 1.074
-210 1.152 1.080
-200 1.146 1.072
-190 1.140 1.084
-180 1.150 1.076
-170 1.144 1.082
-160 1.152 1.074
-150 1.156 1.078
-140 1.144 1.070
-130 1.150 1.080
-120 1.140 1.074
-110 1.146 1.082
-100 1.152 1.068
-90 1.144 1.078
-80 1.150 1.072
-70 1.142 1.084
-60 1.154 1.074
-50 1.148 1.080
-40 1.158 1.070
-30 1.150 1.082
-20 1.162 1.076
-10 1.158 1.086
0 1.168 1.074
10 1.164 1.080
20 1.182 1.072
30 1.170 1.084
40 1.178 1.076
50 1.172 1.082
60 1.166 1.070
70 1.170 1.078
80 1.160 1.074
90 1.164 1.086
100 1.150 1.070
110 1.156 1.080
120 1.136 1.068
130 1.144 1.084
140 1.132 1.072
150 1.140 1.088
160 1.130 1.070
170 1.144 1.082
180 1.138 1.074
190 1.146 1.080
200 1.140 1.068
210 1.150 1.074
220 1.144 1.070
230 1.152 1.078
240 1.146 1.074
250 1.150 1.076
}\tabAA

% 0.8201
\pgfplotstableread{
v V N
-250 1.150 1.086
-240 1.142 1.094
-230 1.154 1.080
-220 1.136 1.096
-210 1.148 1.084
-200 1.134 1.090
-190 1.150 1.078
-180 1.158 1.086
-170 1.146 1.094
-160 1.152 1.084
-150 1.140 1.090
-140 1.158 1.098
-130 1.136 1.080
-120 1.160 1.066
-110 1.146 1.056
-100 1.166 1.064
-90 1.150 1.072
-80 1.134 1.060
-70 1.162 1.076
-60 1.146 1.068
-50 1.170 1.082
-40 1.156 1.070
-30 1.176 1.086
-20 1.160 1.076
-10 1.178 1.092
0 1.168 1.074
10 1.174 1.084
20 1.164 1.070
30 1.182 1.080
40 1.192 1.096
50 1.172 1.076
60 1.178 1.082
70 1.164 1.070
80 1.170 1.090
90 1.156 1.074
100 1.160 1.080
110 1.140 1.068
120 1.162 1.064
130 1.130 1.078
140 1.152 1.070
150 1.136 1.086
160 1.158 1.066
170 1.130 1.080
180 1.112 1.064
190 1.140 1.090
200 1.150 1.096
210 1.162 1.084
220 1.150 1.094
230 1.140 1.086
240 1.146 1.092
250 1.150 1.088
}\tabAB

% 0.8287
\pgfplotstableread{
v V N
-250 1.146 1.078
-240 1.152 1.084
-230 1.140 1.074
-220 1.156 1.080
-210 1.148 1.066
-200 1.154 1.060
-190 1.142 1.074
-180 1.150 1.068
-170 1.138 1.076
-160 1.146 1.070
-150 1.156 1.078
-140 1.140 1.072
-130 1.150 1.080
-120 1.136 1.074
-110 1.160 1.076
-100 1.148 1.082
-90 1.154 1.072
-80 1.140 1.084
-70 1.152 1.076
-60 1.146 1.090
-50 1.160 1.078
-40 1.150 1.084
-30 1.166 1.072
-20 1.158 1.088
-10 1.170 1.080
0 1.160 1.092
10 1.172 1.078
20 1.168 1.084
30 1.176 1.074
40 1.166 1.088
50 1.174 1.080
60 1.170 1.094
70 1.178 1.076
80 1.168 1.086
90 1.186 1.072
100 1.172 1.088
110 1.122 1.076
120 1.126 1.084
130 1.118 1.070
140 1.136 1.080
150 1.142 1.068
160 1.132 1.076
170 1.148 1.064
180 1.140 1.072
190 1.142 1.070
200 1.136 1.066
210 1.144 1.078
220 1.140 1.072
230 1.150 1.080
240 1.142 1.076
250 1.148 1.082
}\tabAC

% 0.8667
\pgfplotstableread{
v V N
-250 1.146 1.086
-240 1.142 1.092
-230 1.148 1.076
-220 1.140 1.084
-210 1.146 1.070
-200 1.138 1.080
-190 1.144 1.074
-180 1.150 1.070
-170 1.140 1.078
-160 1.146 1.072
-150 1.142 1.066
-140 1.150 1.074
-130 1.138 1.068
-120 1.148 1.078
-110 1.134 1.070
-100 1.146 1.082
-90 1.136 1.074
-80 1.130 1.084
-70 1.144 1.076
-60 1.120 1.080
-50 1.140 1.072
-40 1.126 1.084
-30 1.148 1.078
-20 1.136 1.086
-10 1.154 1.090
0 1.144 1.084
10 1.158 1.080
20 1.150 1.074
30 1.164 1.082
40 1.152 1.076
50 1.168 1.070
60 1.160 1.078
70 1.172 1.066
80 1.164 1.072
90 1.180 1.060
100 1.168 1.074
110 1.160 1.066
120 1.148 1.072
130 1.158 1.064
140 1.142 1.074
150 1.150 1.070
160 1.120 1.078
170 1.150 1.068
180 1.136 1.074
190 1.158 1.080
200 1.144 1.074
210 1.150 1.084
220 1.156 1.078
230 1.144 1.074
240 1.150 1.086
250 1.140 1.080
}\tabAD

% 0.8730
\pgfplotstableread{
v V N
-250 1.150 1.072
-240 1.138 1.064
-230 1.152 1.072
-220 1.148 1.076
-210 1.158 1.066
-200 1.146 1.078
-190 1.152 1.072
-180 1.144 1.080
-170 1.154 1.076
-160 1.148 1.082
-150 1.156 1.074
-140 1.150 1.086
-130 1.146 1.068
-120 1.140 1.080
-110 1.134 1.074
-100 1.142 1.066
-90 1.126 1.080
-80 1.134 1.090
-70 1.124 1.072
-60 1.130 1.086
-50 1.120 1.070
-40 1.164 1.078
-30 1.160 1.084
-20 1.168 1.076
-10 1.160 1.090
0 1.170 1.078
10 1.162 1.086
20 1.166 1.072
30 1.156 1.080
40 1.164 1.070
50 1.152 1.086
60 1.162 1.062
70 1.154 1.080
80 1.160 1.090
90 1.148 1.076
100 1.154 1.064
110 1.146 1.074
120 1.134 1.060
130 1.122 1.074
140 1.148 1.070
150 1.136 1.062
160 1.166 1.068
170 1.150 1.076
180 1.156 1.070
190 1.140 1.064
200 1.120 1.074
210 1.142 1.070
220 1.150 1.078
230 1.144 1.082
240 1.152 1.076
250 1.148 1.090
}\tabAE

% 0.9129
\pgfplotstableread{
v V N
-250 1.150 1.056
-240 1.170 1.078
-230 1.180 1.070
-220 1.162 1.094
-210 1.150 1.084
-200 1.156 1.090
-190 1.146 1.078
-180 1.152 1.068
-170 1.140 1.082
-160 1.146 1.072
-150 1.138 1.076
-140 1.164 1.052
-130 1.146 1.088
-120 1.130 1.066
-110 1.152 1.092
-100 1.140 1.060
-90 1.170 1.098
-80 1.150 1.070
-70 1.176 1.054
-60 1.142 1.084
-50 1.130 1.100
-40 1.162 1.066
-30 1.148 1.088
-20 1.168 1.058
-10 1.136 1.094
0 1.158 1.070
10 1.146 1.102
20 1.128 1.064
30 1.160 1.082
40 1.150 1.056
50 1.166 1.092
60 1.140 1.074
70 1.134 1.096
80 1.158 1.060
90 1.174 1.080
100 1.150 1.066
110 1.162 1.092
120 1.140 1.076
130 1.158 1.086
140 1.146 1.064
150 1.164 1.090
160 1.138 1.080
170 1.122 1.106
180 1.150 1.072
190 1.136 1.064
200 1.160 1.082
210 1.142 1.092
220 1.156 1.078
230 1.144 1.070
240 1.160 1.090
250 1.150 1.076
}\tabAF

% 0.9173
\pgfplotstableread{
v V N
-250 1.150 1.066
-240 1.156 1.078
-230 1.146 1.070
-220 1.152 1.082
-210 1.144 1.074
-200 1.156 1.066
-190 1.150 1.074
-180 1.140 1.070
-170 1.148 1.080
-160 1.154 1.072
-150 1.150 1.078
-140 1.142 1.068
-130 1.150 1.082
-120 1.140 1.072
-110 1.148 1.078
-100 1.136 1.066
-90 1.144 1.084
-80 1.150 1.070
-70 1.138 1.086
-60 1.146 1.074
-50 1.134 1.080
-40 1.150 1.072
-30 1.140 1.086
-20 1.156 1.076
-10 1.150 1.082
0 1.162 1.070
10 1.154 1.084
20 1.166 1.068
30 1.160 1.080
40 1.172 1.074
50 1.166 1.086
60 1.184 1.070
70 1.172 1.078
80 1.164 1.064
90 1.156 1.076
100 1.160 1.070
110 1.146 1.082
120 1.154 1.072
130 1.140 1.080
140 1.150 1.068
150 1.144 1.076
160 1.152 1.070
170 1.140 1.078
180 1.148 1.072
190 1.152 1.080
200 1.144 1.074
210 1.150 1.070
220 1.142 1.078
230 1.148 1.076
240 1.144 1.082
250 1.150 1.074
}\tabAG

\pgfplotsset{
  Lk/.style={color=kL, line width=1.2pt, forget plot},
  Dk/.style={color=kD, line width=1.2pt, forget plot, restrict x to domain=-150:185},
  Lr/.style={color=rL, line width=1.2pt, forget plot},
  Dr/.style={color=rD, line width=1.2pt, forget plot, restrict x to domain=-150:185},
  ebar/.style={black, line width=1pt, mark=-, mark size=2.1pt,
    mark options={solid, line width=1pt}, forget plot},
  panel/.style={
    scale only axis, width=110.5pt, height=97.5pt, anchor=north west,
    xmin=-250, xmax=248, ymin=0.912, ymax=1.226,
    xtick={-200,-100,0,100,200}, ytick={1.0,1.1,1.2},
    xticklabels={}, yticklabels={},
    tick align=inside, major tick length=4pt,
    every tick/.style={black, line width=0.8pt},
    grid=major, major grid style={gray!60, dotted, line width=0.6pt},
    axis line style={line width=0.9pt},
    ticklabel style={font=\fontsize{7.6}{9}\selectfont},
  },
  left/.style={
    yticklabels={1.0,1.1,1.2},
    after end axis/.code={
      \node[rotate=90, font=\fontsize{9}{10}\selectfont] at ([xshift=-24.5pt]axis cs:-250,0.983) {\scalebox{0.8}[1]{$I/I_c$}};
      \node[rotate=90, font=\fontsize{9}{10}\selectfont] at ([xshift=-24.5pt]axis cs:-250,1.073) {\scalebox{0.8}[1]{$N/I_c$}};
      \node[rotate=90, font=\fontsize{9}{10}\selectfont] at ([xshift=-24.5pt]axis cs:-250,1.166) {\scalebox{0.8}[1]{$V/I_c$}};
    }},
  bottom/.style={
    xticklabels={−200,−100,0,100,200},
    xlabel={Velocity [km/s]},
    xlabel style={font=\fontsize{10.8}{12}\selectfont, at={(axis description cs:0.5,0)}, anchor=center, yshift=-15.5pt}},
}

% #1 axis options, #2 k or r, #3 table, #4 phase, #5/#6 V bar ends, #7/#8 N bar ends
\newcommand{\panel}[8]{%
\begin{axis}[panel,#1]
\addplot[L#2] table[x=v,y=I] {\Iprof};
\addplot[D#2] table[x=v,y=I] {\Iprof};
\addplot[L#2] table[x=v,y=N] {#3};
\addplot[D#2] table[x=v,y=N] {#3};
\addplot[L#2] table[x=v,y=V] {#3};
\addplot[D#2] table[x=v,y=V] {#3};
\addplot[ebar] coordinates {(228,#5) (228,#6)};
\addplot[ebar] coordinates {(218,#7) (218,#8)};
\node[anchor=base west, inner sep=0pt, font=\fontsize{10.7}{12}\selectfont] at ([xshift=3pt,yshift=2.8pt]rel axis cs:0,0) {#4};
\end{axis}}

\begin{document}
\begin{tikzpicture}
\useasboundingbox (0,0) rectangle (600pt,-721pt);
% row 1
\panel{at={(33.5pt,-3pt)},left}{k}{\tabA}{0.0224}{1.136}{1.160}{1.059}{1.091}
\panel{at={(147.25pt,-3pt)}}{k}{\tabB}{0.0358}{1.132}{1.164}{1.058}{1.092}
\panel{at={(261pt,-3pt)}}{r}{\tabC}{0.0668}{1.130}{1.160}{1.058}{1.092}
\panel{at={(374.75pt,-3pt)}}{k}{\tabD}{0.0801}{1.133}{1.163}{1.057}{1.089}
\panel{at={(488.5pt,-3pt)}}{r}{\tabE}{0.1125}{1.131}{1.165}{1.057}{1.093}
% row 2
\panel{at={(33.5pt,-102.5pt)},left}{k}{\tabF}{0.1243}{1.135}{1.165}{1.059}{1.091}
\panel{at={(147.25pt,-102.5pt)}}{r}{\tabG}{0.1654}{1.130}{1.170}{1.056}{1.094}
\panel{at={(261pt,-102.5pt)}}{k}{\tabH}{0.1807}{1.136}{1.160}{1.058}{1.086}
\panel{at={(374.75pt,-102.5pt)}}{r}{\tabI}{0.2961}{1.135}{1.165}{1.057}{1.093}
\panel{at={(488.5pt,-102.5pt)}}{r}{\tabJ}{0.3417}{1.128}{1.168}{1.050}{1.100}
% row 3
\panel{at={(33.5pt,-202pt)},left}{k}{\tabK}{0.4163}{1.134}{1.170}{1.050}{1.100}
\panel{at={(147.25pt,-202pt)}}{r}{\tabL}{0.4468}{1.132}{1.168}{1.055}{1.095}
\panel{at={(261pt,-202pt)}}{k}{\tabM}{0.4606}{1.133}{1.167}{1.057}{1.093}
\panel{at={(374.75pt,-202pt)}}{r}{\tabN}{0.4927}{1.133}{1.167}{1.052}{1.092}
\panel{at={(488.5pt,-202pt)}}{k}{\tabO}{0.5049}{1.119}{1.195}{1.030}{1.120}
% row 4
\panel{at={(33.5pt,-301.5pt)},left}{k}{\tabP}{0.5049}{1.135}{1.165}{1.060}{1.090}
\panel{at={(147.25pt,-301.5pt)}}{r}{\tabQ}{0.5386}{1.130}{1.170}{1.055}{1.095}
\panel{at={(261pt,-301.5pt)}}{k}{\tabR}{0.5491}{1.128}{1.168}{1.055}{1.095}
\panel{at={(374.75pt,-301.5pt)}}{r}{\tabS}{0.5575}{1.132}{1.168}{1.057}{1.093}
\panel{at={(488.5pt,-301.5pt)}}{k}{\tabT}{0.5935}{1.130}{1.174}{1.056}{1.100}
% row 5
\panel{at={(33.5pt,-401pt)},left}{r}{\tabU}{0.6034}{1.128}{1.168}{1.051}{1.095}
\panel{at={(147.25pt,-401pt)}}{k}{\tabV}{0.6139}{1.120}{1.182}{1.043}{1.103}
\panel{at={(261pt,-401pt)}}{r}{\tabW}{0.6492}{1.135}{1.165}{1.054}{1.090}
\panel{at={(374.75pt,-401pt)}}{k}{\tabX}{0.6583}{1.120}{1.180}{1.042}{1.100}
\panel{at={(488.5pt,-401pt)}}{k}{\tabY}{0.7026}{1.122}{1.178}{1.044}{1.100}
% row 6
\panel{at={(33.5pt,-500.5pt)},left}{k}{\tabZ}{0.8039}{1.136}{1.160}{1.060}{1.090}
\panel{at={(147.25pt,-500.5pt)}}{k}{\tabAA}{0.8066}{1.138}{1.158}{1.063}{1.087}
\panel{at={(261pt,-500.5pt)}}{r}{\tabAB}{0.8201}{1.135}{1.165}{1.055}{1.095}
\panel{at={(374.75pt,-500.5pt)},bottom}{k}{\tabAC}{0.8287}{1.138}{1.158}{1.060}{1.086}
\panel{at={(488.5pt,-500.5pt)},bottom}{r}{\tabAD}{0.8667}{1.136}{1.160}{1.061}{1.089}
% row 7
\panel{at={(33.5pt,-600pt)},left,bottom}{k}{\tabAE}{0.8730}{1.136}{1.160}{1.063}{1.087}
\panel{at={(147.25pt,-600pt)},bottom}{r}{\tabAF}{0.9129}{1.130}{1.170}{1.050}{1.100}
\panel{at={(261pt,-600pt)},bottom}{k}{\tabAG}{0.9173}{1.138}{1.162}{1.060}{1.090}
\end{tikzpicture}
\end{document}
